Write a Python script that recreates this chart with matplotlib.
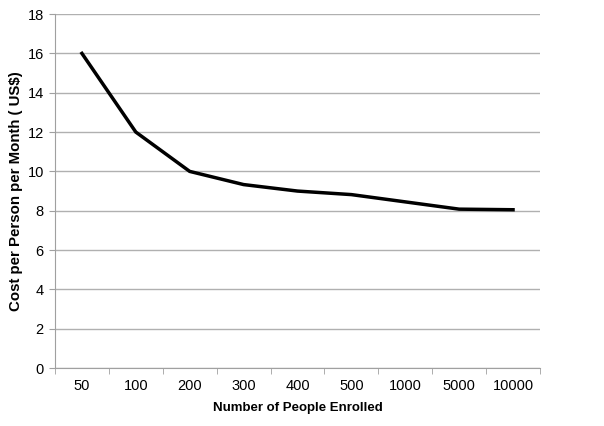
import matplotlib
matplotlib.use("Agg")
import matplotlib.pyplot as plt
import numpy as np

enrolled = ["50", "100", "200", "300", "400", "500", "1000", "5000", "10000"]
cost = [16.0, 12.0, 10.0, 9.33, 9.0, 8.82, 8.45, 8.08, 8.05]
y_ticks = [0, 2, 4, 6, 8, 10, 12, 14, 16, 18]

plt.rcParams['font.family'] = ['Liberation Sans', 'DejaVu Sans']

fig = plt.figure(figsize=(6.04, 4.26), dpi=100)
ax = fig.add_axes([0.091, 0.136, 0.803, 0.831])

x = np.arange(len(enrolled))
ax.plot(x, cost, color='black', linewidth=2.5, solid_joinstyle='miter')

ax.set_xlim(-0.5, len(enrolled) - 0.5)
ax.set_ylim(0, 18)
ax.set_yticks(y_ticks)
ax.set_xticks(x)
ax.set_xticklabels(enrolled)
# tick marks sit between categories, like excel
ax.set_xticks(np.arange(len(enrolled) + 1) - 0.5, minor=True)
ax.tick_params(axis='x', which='major', length=0, pad=8, labelsize=10.5)
ax.tick_params(axis='x', which='minor', length=4, color='#a0a0a0')
ax.tick_params(axis='y', length=4, color='#a0a0a0', labelsize=10.5, pad=4)

ax.grid(axis='y', color='#b0b0b0', linewidth=1)
ax.set_axisbelow(True)
for s in ['top', 'right']:
    ax.spines[s].set_visible(False)
ax.spines['left'].set_color('#a0a0a0')
ax.spines['bottom'].set_color('#a0a0a0')

ax.set_xlabel("Number of People Enrolled", fontweight='bold', fontsize=9.5, labelpad=6)
ax.set_ylabel("Cost per Person per Month ( US$)", fontweight='bold', fontsize=10.8, labelpad=3)

fig.savefig("out.png", dpi=100)
